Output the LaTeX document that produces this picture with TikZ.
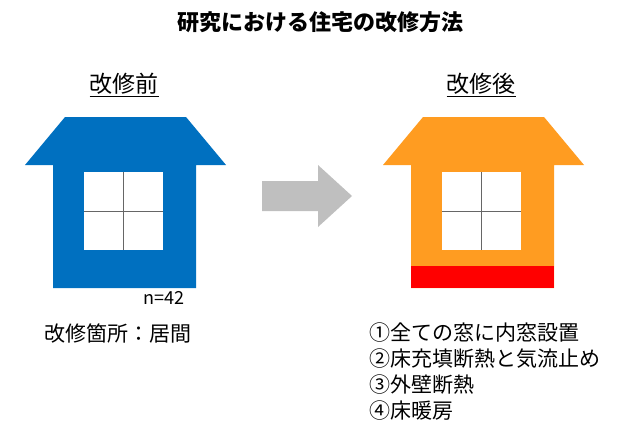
\documentclass[tikz,border=0pt]{standalone}
\usepackage{fontspec}
\setmainfont{Noto Sans CJK JP}
\definecolor{hblue}{HTML}{0070C0}
\definecolor{horange}{HTML}{FF9C21}
\definecolor{hred}{HTML}{FF0000}
\definecolor{hgray}{HTML}{BFBFBF}
\begin{document}
\begin{tikzpicture}[x=1pt,y=-1pt,
  txt/.style={font=\fontsize{21}{23}\selectfont,inner sep=0pt},
  win/.style={fill=white,draw=none},
  bar/.style={draw=black!60,line width=0.8pt}]
\useasboundingbox (0,0) rectangle (640,442);
\node[txt,font=\bfseries\fontsize{22}{24}\selectfont] (title) at (320,22) {研究における住宅の改修方法};
\node[txt,font=\fontsize{23}{25}\selectfont] (before) at (124,85) {\underline{改修前}};
\node[txt,font=\fontsize{23}{25}\selectfont] (after) at (481,85) {\underline{改修後}};
% blue house
\fill[hblue] (65,117) -- (186,117) -- (226,165) -- (196,165) -- (196,288) -- (53,288) -- (53,165) -- (25,165) -- cycle;
\fill[win] (84,172) rectangle (163,250);
\draw[bar] (123.5,172) -- (123.5,250) (84,211) -- (163,211);
% orange house
\begin{scope}[xshift=358pt]
\fill[horange] (65,117) -- (186,117) -- (226,165) -- (196,165) -- (196,288) -- (53,288) -- (53,165) -- (25,165) -- cycle;
\fill[hred] (53,266) rectangle (196,288);
\fill[win] (84,172) rectangle (163,250);
\draw[bar] (123.5,172) -- (123.5,250) (84,211) -- (163,211);
\end{scope}
% arrow
\fill[hgray] (262,181) -- (318,181) -- (318,165) -- (352,196) -- (318,227) -- (318,211) -- (262,211) -- cycle;
\node[txt,anchor=west,font=\fontsize{18}{20}\selectfont] (n) at (143,298) {n=42};
\node[txt,anchor=west] (place) at (44,334) {改修箇所：居間};
\node[txt,anchor=west] (l1) at (369,333) {①全ての窓に内窓設置};
\node[txt,anchor=west] (l2) at (369,359) {②床充填断熱と気流止め};
\node[txt,anchor=west] (l3) at (369,385) {③外壁断熱};
\node[txt,anchor=west] (l4) at (369,411) {④床暖房};
\end{tikzpicture}
\end{document}
